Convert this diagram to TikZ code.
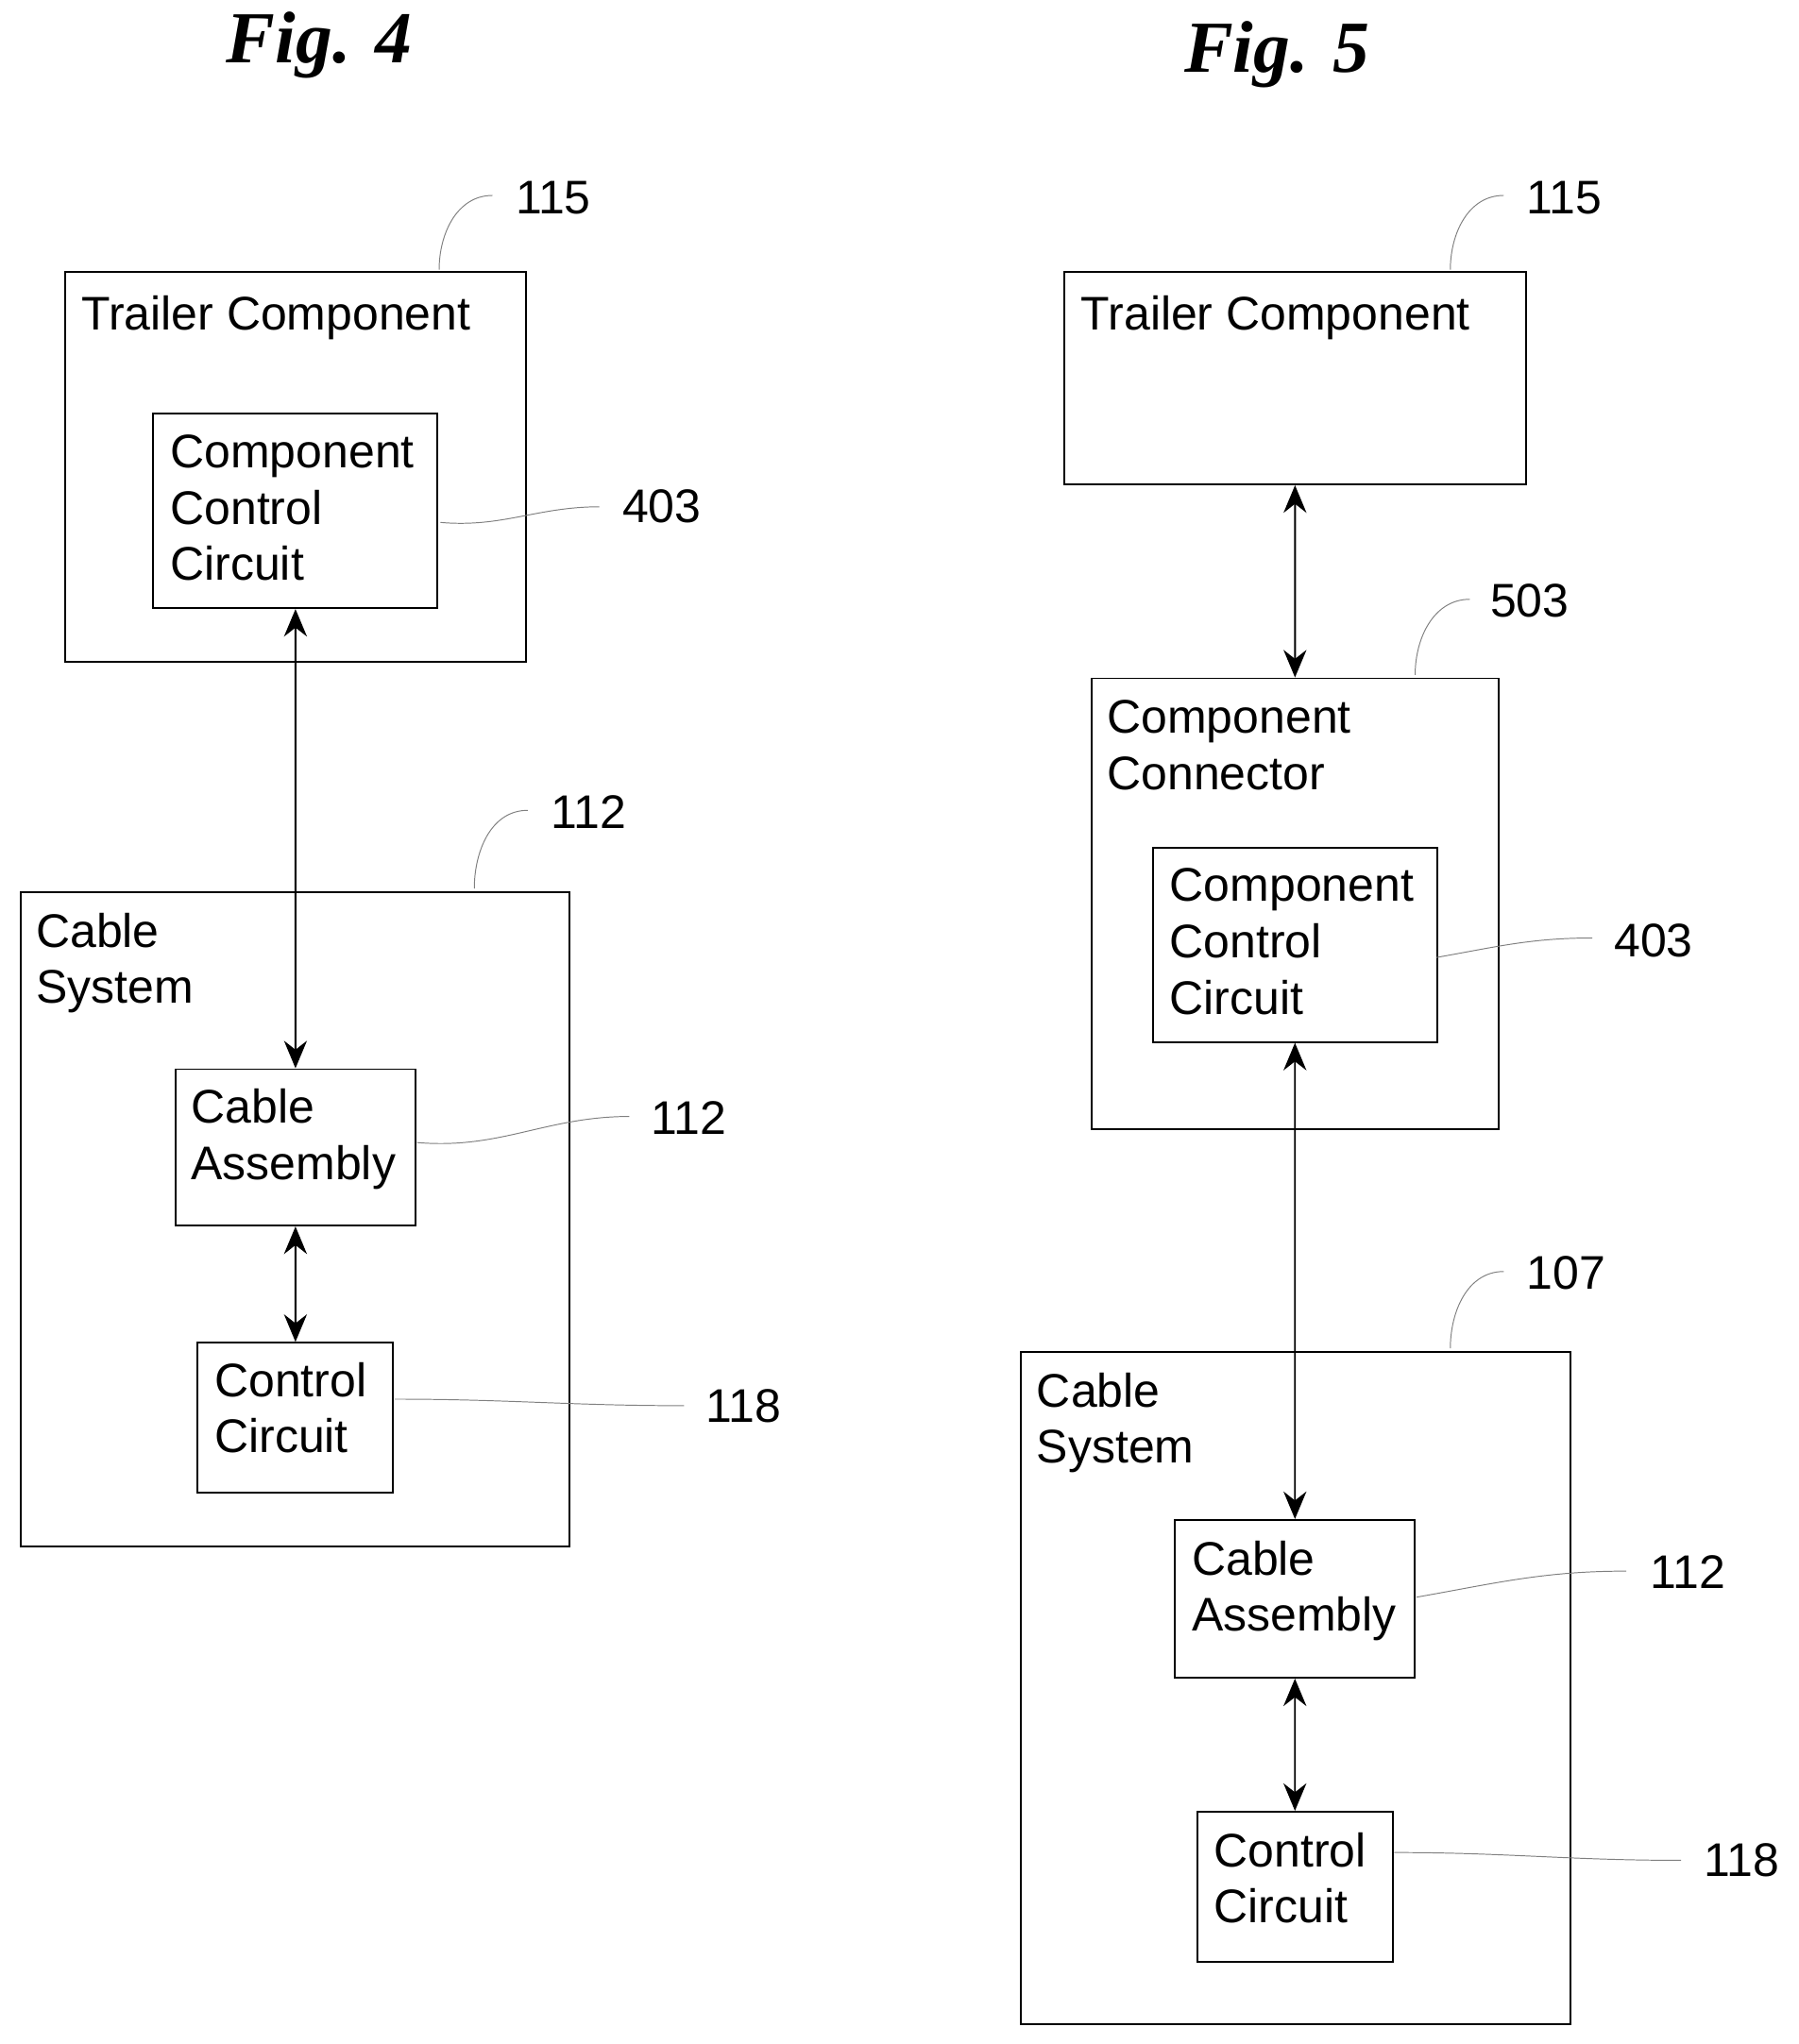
\documentclass[tikz,border=0pt]{standalone}
\usepackage{fontspec}
\setmainfont{Liberation Sans}
\newfontfamily\figfont{Liberation Serif}
\usetikzlibrary{positioning,arrows.meta}

\tikzset{
  box/.style = {draw, thin, anchor=north west, inner sep=0pt},
  txt/.style = {anchor=north west, align=left, inner sep=0pt, font=\fontsize{10.3}{12.3}\selectfont},
  num/.style = {anchor=west, inner sep=0pt, font=\fontsize{10.3}{12}\selectfont},
  lead/.style = {gray, very thin},
  link/.style = {{Stealth[length=6pt,width=5pt]}-{Stealth[length=6pt,width=5pt]}, thin},
  title/.style = {font=\figfont\bfseries\itshape\fontsize{16}{18}\selectfont}
}

\begin{document}
\begin{tikzpicture}[x=0.01cm, y=-0.01cm]
\useasboundingbox (0,0) rectangle (1380,1569);

% Fig. 4
\node[title] (t4) at (245,35) {Fig. 4};
\node[box, minimum width=3.54cm, minimum height=2.99cm] (tc4) at (49,208) {};
\node[txt] at (62,226) {Trailer Component};
\node[box, minimum width=2.18cm, minimum height=1.49cm] (ccc4) at (117,317) {};
\node[txt] at (130,333) {Component\\Control\\Circuit};
\node[box, minimum width=4.21cm, minimum height=5.02cm] (cs4) at (15,684) {};
\node[txt] at (27,700) {Cable\\System};
\node[box, minimum width=1.84cm, minimum height=1.20cm] (ca4) at (134,820) {};
\node[txt] at (146,835) {Cable\\Assembly};
\node[box, minimum width=1.50cm, minimum height=1.15cm] (cc4) at (151,1030) {};
\node[txt] at (164,1045) {Control\\Circuit};

\draw[link] (ccc4.south) -- (ca4.north);
\draw[link] (ca4.south) -- (cc4.north);

\node[num] (n115a) at (395,152) {115};
\node[num] (n403a) at (477,389) {403};
\node[num] (n112a) at (422,623) {112};
\node[num] (n112b) at (499,858) {112};
\node[num] (n118a) at (541,1079) {118};
\draw[lead] (337,207) to[out=90,in=180] (378,150);
\draw[lead] (338,401) to[out=-5,in=180] (460,389);
\draw[lead] (364,682) to[out=90,in=180] (405,622);
\draw[lead] (320,877) to[out=-5,in=180] (483,857);
\draw[lead] (303,1074) to[out=0,in=180] (525,1079);

% Fig. 5
\node[title] (t5) at (980,42) {Fig. 5};
\node[box, minimum width=3.54cm, minimum height=1.63cm] (tc5) at (816,208) {};
\node[txt] at (829,226) {Trailer Component};
\node[box, minimum width=3.12cm, minimum height=3.46cm] (con5) at (837,520) {};
\node[txt] at (849,537) {Component\\Connector};
\node[box, minimum width=2.18cm, minimum height=1.49cm] (ccc5) at (884,650) {};
\node[txt] at (897,666) {Component\\Control\\Circuit};
\node[box, minimum width=4.21cm, minimum height=5.16cm] (cs5) at (783,1037) {};
\node[txt] at (795,1053) {Cable\\System};
\node[box, minimum width=1.84cm, minimum height=1.21cm] (ca5) at (901,1166) {};
\node[txt] at (914,1182) {Cable\\Assembly};
\node[box, minimum width=1.50cm, minimum height=1.15cm] (cc5) at (918,1390) {};
\node[txt] at (931,1406) {Control\\Circuit};

\draw[link] (tc5.south) -- (con5.north);
\draw[link] (ccc5.south) -- (ca5.north);
\draw[link] (ca5.south) -- (cc5.north);

\node[num] (n115b) at (1171,152) {115};
\node[num] (n503) at (1143,461) {503};
\node[num] (n403b) at (1238,722) {403};
\node[num] (n107) at (1171,977) {107};
\node[num] (n112c) at (1266,1207) {112};
\node[num] (n118b) at (1307,1428) {118};
\draw[lead] (1113,207) to[out=90,in=180] (1154,150);
\draw[lead] (1086,518) to[out=90,in=180] (1128,460);
\draw[lead] (1102,735) to[out=10,in=180] (1222,720);
\draw[lead] (1113,1035) to[out=90,in=180] (1154,976);
\draw[lead] (1087,1226) to[out=10,in=180] (1248,1206);
\draw[lead] (1070,1422) to[out=0,in=180] (1290,1428);
\end{tikzpicture}
\end{document}
